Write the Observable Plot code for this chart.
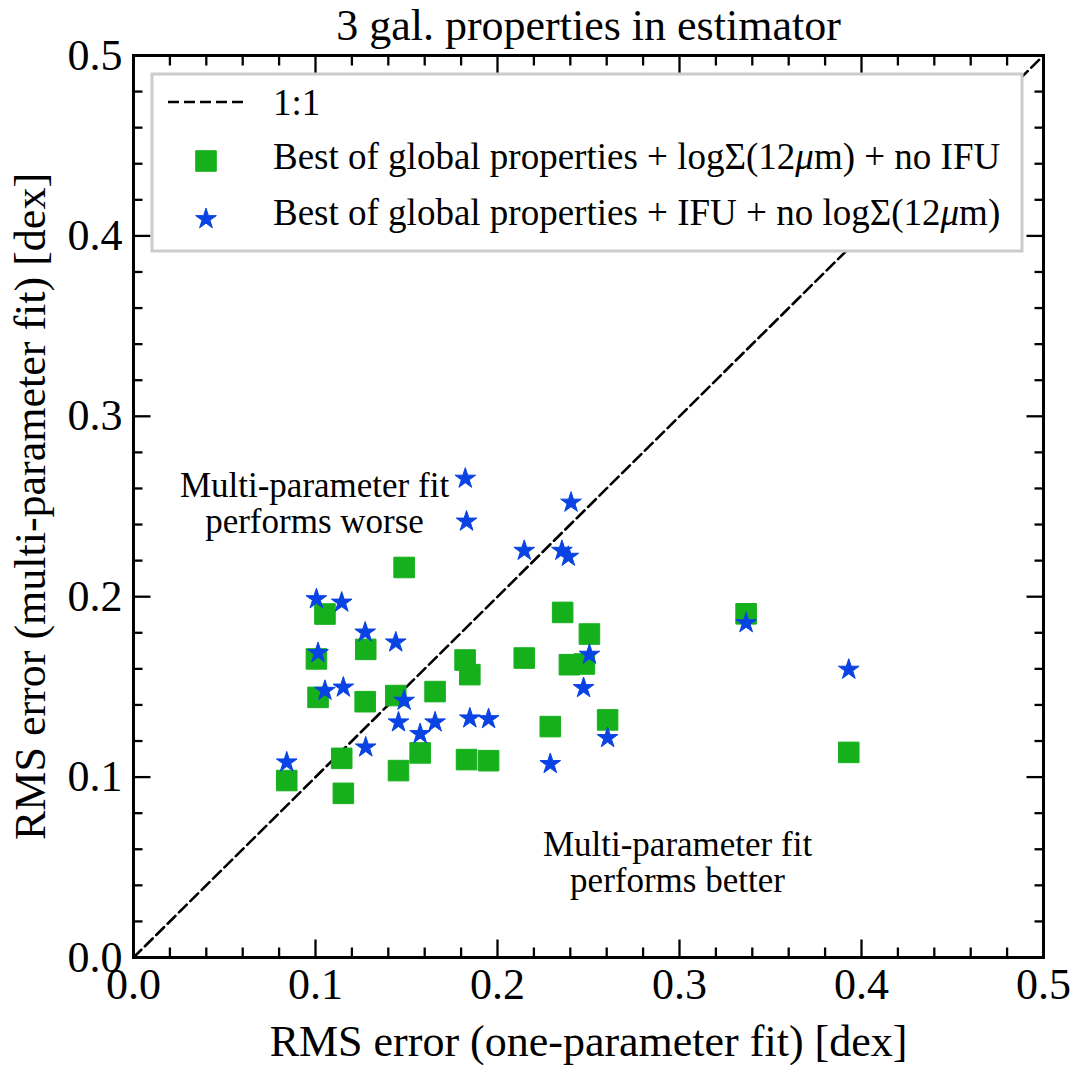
<!DOCTYPE html>
<html>
<head>
<meta charset="utf-8">
<script src="https://cdn.jsdelivr.net/npm/d3@7"></script>
<script src="https://cdn.jsdelivr.net/npm/@observablehq/plot@0.6"></script>
<style>
  html, body { margin: 0; padding: 0; background: #fff; }
  #wrap { position: relative; width: 1078px; height: 1065px; overflow: hidden; }
  #wrap > svg { position: absolute; left: 0; top: 0; }
</style>
</head>
<body>
<div id="wrap"></div>
<script>
// ---- Data ----
const chartTitle = "3 gal. properties in estimator";
const xLabel = "RMS error (one-parameter fit) [dex]";
const yLabel = "RMS error (multi-parameter fit) [dex]";

// Green squares: Best of global properties + logΣ(12μm) + no IFU
const squareX = [0.1487, 0.1052, 0.1276, 0.1005, 0.1014, 0.1273, 0.1441, 0.1657, 0.1822, 0.1848,
                 0.2147, 0.2358, 0.2505, 0.2395, 0.2477, 0.2605, 0.2290, 0.1575, 0.1144, 0.0842,
                 0.1153, 0.1456, 0.1830, 0.1951, 0.3366, 0.3930];
const squareY = [0.2162, 0.1904, 0.1708, 0.1655, 0.1442, 0.1418, 0.1452, 0.1474, 0.1649, 0.1568,
                 0.1660, 0.1913, 0.1793, 0.1623, 0.1627, 0.1317, 0.1280, 0.1134, 0.1104, 0.0981,
                 0.0910, 0.1036, 0.1097, 0.1091, 0.1905, 0.1137];

// Blue stars: Best of global properties + IFU + no logΣ(12μm)
const starX = [0.1823, 0.1830, 0.2404, 0.2147, 0.2354, 0.2389, 0.1005, 0.1144, 0.1273, 0.1441,
               0.1014, 0.1052, 0.1153, 0.1487, 0.1456, 0.1575, 0.1657, 0.1848, 0.1951, 0.1276,
               0.0842, 0.2290, 0.2505, 0.2473, 0.2605, 0.3366, 0.3930];
const starY = [0.2655, 0.2417, 0.2522, 0.2255, 0.2255, 0.2222, 0.1987, 0.1968, 0.1802, 0.1747,
               0.1688, 0.1479, 0.1497, 0.1424, 0.1304, 0.1239, 0.1304, 0.1326, 0.1322, 0.1165,
               0.1082, 0.1073, 0.1679, 0.1494, 0.1217, 0.1854, 0.1596];

const oneToOne = [0, 0.5];
const majorTicks = [0, 0.1, 0.2, 0.3, 0.4, 0.5];
const minorTicks = [0.02, 0.04, 0.06, 0.08, 0.12, 0.14, 0.16, 0.18, 0.22, 0.24, 0.26, 0.28,
                    0.32, 0.34, 0.36, 0.38, 0.42, 0.44, 0.46, 0.48];

const legendLabels = [
  "1:1",
  "Best of global properties + logΣ(12μm) + no IFU",
  "Best of global properties + IFU + no logΣ(12μm)"
];
const annotations = ["Multi-parameter fit\nperforms worse", "Multi-parameter fit\nperforms better"];

// ---- Styles ----
const FONT = '"Liberation Serif","Times New Roman",Times,serif';
const GREEN = "#17b01d";
const BLUE = "#0a43e4";
const SQ_R = 11.6;
const STAR_R = 6.5;

const squares = squareX.map((x, i) => ({x, y: squareY[i]}));
const stars = starX.map((x, i) => ({x, y: starY[i]}));

const tickAxes = [];
for (const anchor of ["bottom", "top"]) {
  tickAxes.push(Plot.axisX(majorTicks, {anchor, tickSize: -17.5, strokeWidth: 2.3, fill: "none", label: null}));
  tickAxes.push(Plot.axisX(minorTicks, {anchor, tickSize: -9.5, strokeWidth: 2.3, fill: "none", label: null}));
}
for (const anchor of ["left", "right"]) {
  tickAxes.push(Plot.axisY(majorTicks, {anchor, tickSize: -17.5, strokeWidth: 2.3, fill: "none", label: null}));
  tickAxes.push(Plot.axisY(minorTicks, {anchor, tickSize: -9.5, strokeWidth: 2.3, fill: "none", label: null}));
}

const chart = Plot.plot({
  width: 1078,
  height: 1065,
  marginLeft: 133,
  marginRight: 35,
  marginTop: 55,
  marginBottom: 108,
  style: {fontFamily: FONT, background: "white", color: "black", overflow: "visible"},
  x: {domain: [0, 0.5]},
  y: {domain: [0, 0.5]},
  marks: [
    Plot.line(oneToOne, {x: d => d, y: d => d, stroke: "black", strokeWidth: 2.6, strokeDasharray: "11,5"}),
    Plot.dot(squares, {x: "x", y: "y", symbol: "square", r: SQ_R, fill: GREEN, stroke: GREEN, strokeWidth: 1, strokeLinejoin: "round"}),
    Plot.dot(stars, {x: "x", y: "y", symbol: "star", r: STAR_R, fill: BLUE, stroke: BLUE, strokeWidth: 1, strokeLinejoin: "round"}),
    Plot.text([annotations[0]], {text: d => d, frameAnchor: "top-left", dx: 181, dy: 416, lineAnchor: "top", textAnchor: "middle", fontSize: 35, lineHeight: 1.03}),
    Plot.text([annotations[1]], {text: d => d, frameAnchor: "top-left", dx: 544, dy: 775, lineAnchor: "top", textAnchor: "middle", fontSize: 35, lineHeight: 1.03}),
    Plot.frame({stroke: "black", strokeWidth: 3}),
    ...tickAxes,
    Plot.axisX(majorTicks, {anchor: "bottom", tickSize: 0, tickPadding: 10, tickFormat: d => d.toFixed(1), fontSize: 44, label: null}),
    Plot.axisY(majorTicks, {anchor: "left", tickSize: 0, tickPadding: 11, tickFormat: d => d.toFixed(1), fontSize: 44, label: null}),
    Plot.text([chartTitle], {text: d => d, frameAnchor: "top", dy: -47, lineAnchor: "top", textAnchor: "middle", fontSize: 44}),
    Plot.text([xLabel], {text: d => d, frameAnchor: "bottom", dy: 67, lineAnchor: "top", textAnchor: "middle", fontSize: 44}),
    Plot.text([yLabel], {text: d => d, frameAnchor: "left", dx: -120, rotate: -90, lineAnchor: "top", textAnchor: "middle", fontSize: 44})
  ]
});

const wrap = document.getElementById("wrap");
wrap.appendChild(chart);

// ---- Legend overlay (drawn inside the axes, upper area) ----
const leg = d3.select(wrap).append("svg")
  .attr("width", 1078).attr("height", 1065)
  .style("pointer-events", "none")
  .style("font-family", FONT);

leg.append("rect")
  .attr("x", 152).attr("y", 74).attr("width", 870).attr("height", 177)
  .attr("fill", "white").attr("stroke", "#cccccc").attr("stroke-width", 3);

const rowsY = [115, 169, 225];
const symX = 206;
leg.append("line")
  .attr("x1", 168).attr("x2", 244).attr("y1", 102).attr("y2", 102)
  .attr("stroke", "black").attr("stroke-width", 2.6).attr("stroke-dasharray", "11,5");
leg.append("path")
  .attr("transform", `translate(${symX},161)`)
  .attr("d", d3.symbol(d3.symbolSquare, Math.PI * SQ_R * SQ_R)())
  .attr("fill", GREEN).attr("stroke", GREEN).attr("stroke-width", 1).attr("stroke-linejoin", "round");
leg.append("path")
  .attr("transform", `translate(${symX},219)`)
  .attr("d", d3.symbol(d3.symbolStar, Math.PI * STAR_R * STAR_R)())
  .attr("fill", BLUE).attr("stroke", BLUE).attr("stroke-width", 1).attr("stroke-linejoin", "round");

legendLabels.forEach((lab, i) => {
  const t = leg.append("text").attr("x", 273).attr("y", rowsY[i]).attr("font-size", 37).attr("fill", "black");
  // italic mu, as in math mode
  const parts = lab.split("μ");
  parts.forEach((p, j) => {
    if (j > 0) t.append("tspan").attr("font-style", "italic").text("μ");
    t.append("tspan").text(p);
  });
});
</script>
</body>
</html>
